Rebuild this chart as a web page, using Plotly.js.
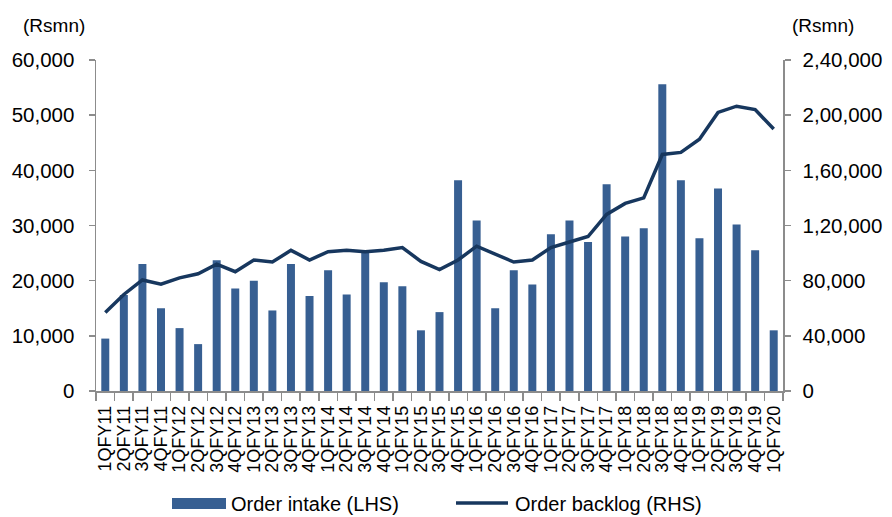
<!DOCTYPE html>
<html>
<head>
<meta charset="utf-8">
<script src="https://cdn.plot.ly/plotly-3.0.1.min.js"></script>
<style>html,body{margin:0;padding:0;background:#fff;}#chart{width:892px;height:517px;}</style>
</head>
<body>
<div id="chart"></div>
<script>
const quarters = ["1QFY11","2QFY11","3QFY11","4QFY11","1QFY12","2QFY12","3QFY12","4QFY12","1QFY13","2QFY13","3QFY13","4QFY13","1QFY14","2QFY14","3QFY14","4QFY14","1QFY15","2QFY15","3QFY15","4QFY15","1QFY16","2QFY16","3QFY16","4QFY16","1QFY17","2QFY17","3QFY17","4QFY17","1QFY18","2QFY18","3QFY18","4QFY18","1QFY19","2QFY19","3QFY19","4QFY19","1QFY20"];
const orderIntake = [9500,17400,23000,15000,11400,8500,23700,18600,20000,14600,23000,17200,21900,17500,25300,19700,19000,11000,14300,38200,30900,15000,21900,19300,28400,30900,27000,37500,28000,29500,55600,38200,27700,36700,30200,25500,11000];
const orderBacklog = [57000,70000,80500,77500,82000,85000,92000,86500,95000,93500,102000,95000,101000,102000,101000,102000,104000,94000,88000,95000,105000,99500,93500,95000,104000,108000,112000,128000,136000,140000,171500,173000,182500,202000,206500,204000,190000];
const leftTicks = [0,10000,20000,30000,40000,50000,60000];
const leftTickText = ["0","10,000","20,000","30,000","40,000","50,000","60,000"];
const rightTicks = [0,40000,80000,120000,160000,200000,240000];
const rightTickText = ["0","40,000","80,000","1,20,000","1,60,000","2,00,000","2,40,000"];

const FONT = "Arial, 'Liberation Sans', sans-serif";
const axisColor = "#8c8c8c";

const traces = [
  {type:"bar", x:quarters, y:orderIntake, name:"Order intake (LHS)", marker:{color:"#375f92"}, width:0.43, yaxis:"y", showlegend:false},
  {type:"scatter", mode:"lines", x:quarters, y:orderBacklog, name:"Order backlog (RHS)", line:{color:"#17375e", width:3.5}, yaxis:"y2", showlegend:false}
];

const L=96, R=783, T=60, B=391;
const px = v => (v-L)/(R-L);
const py = v => (B-v)/(B-T);

const layout = {
  width:892, height:517,
  margin:{l:L, r:892-R, t:T, b:517-B, pad:0},
  paper_bgcolor:"#fff", plot_bgcolor:"#fff",
  font:{family:FONT, color:"#000", size:18},
  showlegend:false,
  xaxis:{type:"category", tickmode:"array", tickvals:quarters, ticktext:quarters,
         showgrid:false, showline:true, linecolor:axisColor, linewidth:1.5,
         ticks:"outside", tickson:"boundaries", ticklen:8, tickcolor:axisColor, tickwidth:1.5,
         tickangle:-90, tickfont:{size:18, family:FONT}, ticklabelstandoff:6, zeroline:false, range:[-0.5,36.5]},
  yaxis:{range:[0,60000], tickvals:leftTicks, ticktext:leftTickText, showgrid:false, zeroline:false,
         showline:true, linecolor:axisColor, linewidth:1.5, ticks:"outside", ticklen:6, tickcolor:axisColor, tickwidth:1.5,
         tickfont:{size:20.5, family:FONT}, ticklabelstandoff:10},
  yaxis2:{range:[0,240000], tickvals:rightTicks, ticktext:rightTickText, overlaying:"y", side:"right", showgrid:false, zeroline:false,
          showline:true, linecolor:axisColor, linewidth:1.5, ticks:"outside", ticklen:6, tickcolor:axisColor, tickwidth:1.5,
          tickfont:{size:20.5, family:FONT}, ticklabelstandoff:8},
  annotations:[
    {xref:"paper", yref:"paper", x:px(54), y:py(26), text:"(Rsmn)", showarrow:false, xanchor:"center", yanchor:"middle", font:{size:19, family:FONT}},
    {xref:"paper", yref:"paper", x:px(823), y:py(26), text:"(Rsmn)", showarrow:false, xanchor:"center", yanchor:"middle", font:{size:19, family:FONT}},
    {xref:"paper", yref:"paper", x:px(229), y:py(504), text:"Order intake (LHS)", showarrow:false, xanchor:"left", yanchor:"middle", font:{size:20, family:FONT}},
    {xref:"paper", yref:"paper", x:px(513), y:py(504), text:"Order backlog (RHS)", showarrow:false, xanchor:"left", yanchor:"middle", font:{size:20, family:FONT}}
  ],
  shapes:[
    {type:"rect", xref:"paper", yref:"paper", x0:px(172), x1:px(226), y0:py(498), y1:py(509), fillcolor:"#375f92", line:{width:0}},
    {type:"line", xref:"paper", yref:"paper", x0:px(456), x1:px(508), y0:py(503), y1:py(503), line:{color:"#17375e", width:3.5}}
  ]
};

Plotly.newPlot("chart", traces, layout, {displayModeBar:false, staticPlot:true});
</script>
</body>
</html>
